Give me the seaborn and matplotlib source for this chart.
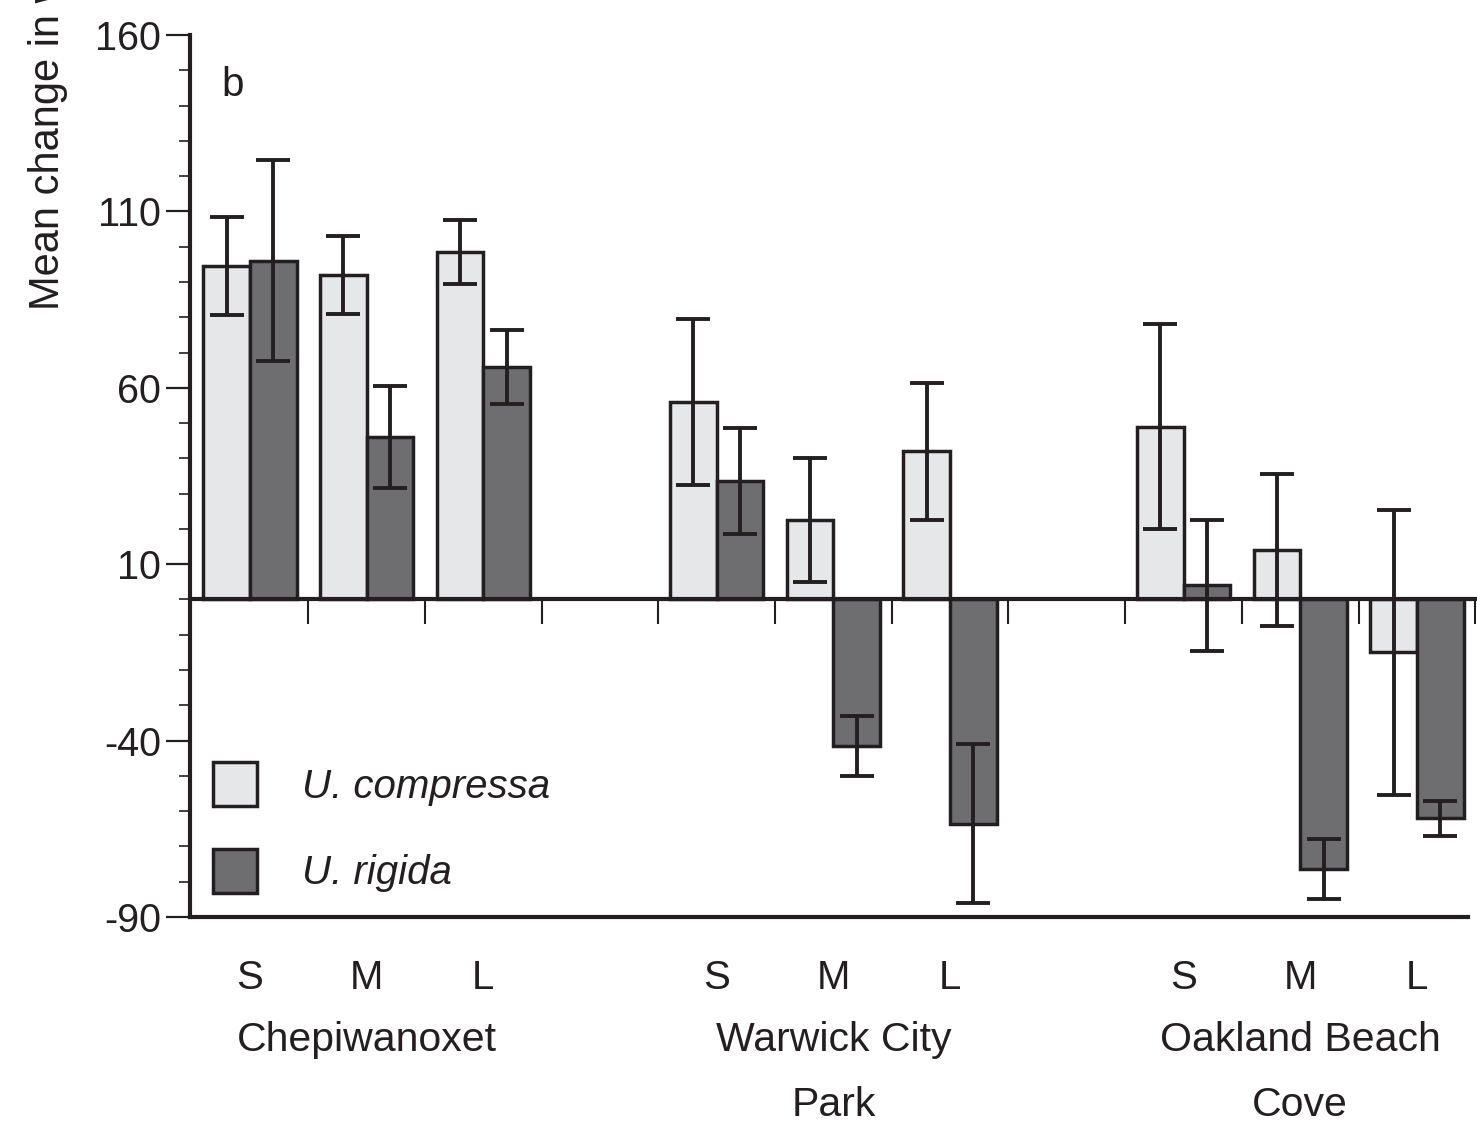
import numpy as np
import pandas as pd
import matplotlib
matplotlib.use("Agg")
import matplotlib.pyplot as plt
import seaborn as sns

# values
sites = ["Chepiwanoxet", "Warwick City\nPark", "Oakland Beach\nCove"]
sizes = ["S", "M", "L"]
species = ["U. compressa", "U. rigida"]
compressa_mean = [94.5, 92.0, 98.5, 56.0, 22.5, 42.0, 49.0, 14.0, -15.0]
compressa_err = [14.0, 11.0, 9.0, 23.5, 17.5, 19.5, 29.0, 21.5, 40.5]
rigida_mean = [96.0, 46.0, 66.0, 33.5, -41.5, -63.5, 4.0, -76.5, -62.0]
rigida_err = [28.5, 14.5, 10.5, 15.0, 8.5, 22.5, 18.5, 8.5, 5.0]

light = "#e6e7e8"
dark = "#6d6e71"
ink = "#231f20"

# slot positions with an empty slot between sites
xpos = [g * 4 + i for g in range(3) for i in range(3)]
df = pd.DataFrame({
    "x": xpos * 2,
    "species": [species[0]] * 9 + [species[1]] * 9,
    "value": compressa_mean + rigida_mean,
    "err": compressa_err + rigida_err,
})

sns.set_theme(style="ticks")
plt.rcParams["font.family"] = ["Liberation Sans", "DejaVu Sans"]
plt.rcParams["axes.unicode_minus"] = False
plt.rcParams["text.color"] = ink
plt.rcParams["axes.edgecolor"] = ink
plt.rcParams["xtick.color"] = ink
plt.rcParams["ytick.color"] = ink

fig = plt.figure(figsize=(14.77, 11.27), dpi=100)
ax = fig.add_axes([190 / 1477, 1 - 917 / 1127, 1287 / 1477, 882 / 1127])

sns.barplot(data=df, x="x", y="value", hue="species", hue_order=species,
            palette=[light, dark], native_scale=True, errorbar=None,
            edgecolor=ink, linewidth=2.5, width=0.8, ax=ax)

# error bars on top of each bar
for sp, cont in zip(species, ax.containers):
    sub = df[df["species"] == sp].set_index("x")
    for p in cont.patches:
        cx = p.get_x() + p.get_width() / 2
        key = int(round(cx))
        ax.errorbar(cx, sub.loc[key, "value"], yerr=sub.loc[key, "err"],
                    fmt="none", ecolor=ink, elinewidth=2.8, capsize=12,
                    capthick=2.8, zorder=5)

ax.set_xlim(-0.514, 10.515)
ax.set_ylim(-90, 160)

# zero line with slot separators
ax.axhline(0, color=ink, lw=3, zorder=6)
bounds = np.arange(0.5, 11, 1.0)
ax.vlines(bounds, -7, 0, color=ink, lw=1.5, zorder=6)

ax.set_yticks(np.arange(-90, 161, 50))
ax.set_yticks(np.arange(-90, 161, 10), minor=True)
ax.tick_params(axis="y", which="major", length=17, width=1.6, labelsize=28.5, pad=4)
ax.tick_params(axis="y", which="minor", length=8, width=1.2, left=True)
ax.set_xticks(xpos)
ax.set_xticklabels(sizes * 3)
ax.tick_params(axis="x", length=0, labelsize=29, pad=30)
ax.set_xlabel("")
ax.set_ylabel("")

for s in ["top", "right"]:
    ax.spines[s].set_visible(False)
ax.spines["left"].set_linewidth(3)
ax.spines["bottom"].set_linewidth(3)
ax.spines["bottom"].set_bounds(-0.514, 10.44)

for g, name in enumerate(sites):
    ax.annotate(name, xy=(g * 4 + 1, 0), xycoords=("data", "axes fraction"),
                xytext=(0, -104), textcoords="offset pixels", ha="center", va="top",
                fontsize=29.5, linespacing=1.9)

ax.text(0.024, 0.943, "b", transform=ax.transAxes, fontsize=29, va="center")

fig.text(48 / 1477, 1 - 310 / 1127, "Mean change in weight (%)", rotation=90,
         ha="center", va="bottom", fontsize=30)

sns.move_legend(ax, "lower left", bbox_to_anchor=(0.018, 0.027), frameon=False,
                title=None, prop={"style": "italic", "size": 29},
                handlelength=1.1, handleheight=1.32, handletextpad=1.1,
                labelspacing=1.05, borderpad=0, borderaxespad=0)

fig.savefig("out.png", dpi=100)
